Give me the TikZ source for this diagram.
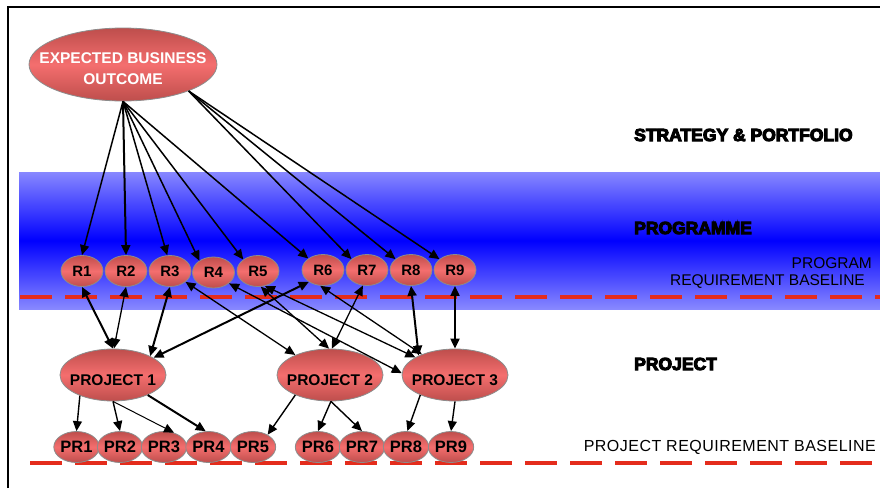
\documentclass[tikz,border=0pt]{standalone}
\usepackage{fontspec}
\setmainfont{Liberation Sans}
\newfontfamily\heavyfont{Liberation Sans Bold}[FakeBold=6]
\usetikzlibrary{shapes.geometric,arrows.meta}
\definecolor{rdark}{RGB}{190,78,76}
\definecolor{rlight}{RGB}{244,110,110}
\definecolor{rborder}{RGB}{140,140,140}
\definecolor{bandlight}{RGB}{136,136,255}
\definecolor{bandblue}{RGB}{0,0,255}
\definecolor{basered}{RGB}{228,44,28}
\newcommand{\inlbl}[1]{\makebox[0pt][c]{\raisebox{-5pt}[\height][\depth]{#1}}}
\begin{document}
\begin{tikzpicture}[x=1pt,y=-1pt,
 req/.style={ellipse, draw=rborder, line width=0.8pt, top color=rdark, bottom color=rdark, middle color=rlight,
   minimum width=42pt, minimum height=31pt, inner sep=0pt, font=\fontsize{15}{17}\selectfont\bfseries},
 preq/.style={req, font=\fontsize{16.5}{18}\selectfont\bfseries},
 proj/.style={req, minimum width=106pt, minimum height=52pt, font=\fontsize{15.5}{17}\selectfont\bfseries},
 ebo/.style={req, minimum width=188pt, minimum height=73pt, text=white, font=\fontsize{15.5}{21}\selectfont\bfseries},
 baseln/.style={basered, line width=3.5pt, dash pattern=on 32pt off 13pt},
 heading/.style={anchor=west, inner sep=0pt, font=\heavyfont\fontsize{17.5}{20}\selectfont},
 plain/.style={inner sep=0pt, font=\fontsize{15.5}{18}\selectfont},
 tip/.style={-{Triangle[length=10pt,width=9pt]}},
 dtip/.style={{Triangle[length=10pt,width=9pt]}-{Triangle[length=10pt,width=9pt]}},
 eline/.style={tip, line width=1.5pt},
 thk/.style={dtip, line width=2pt},
 med/.style={dtip, line width=1.3pt},
 pthk/.style={tip, line width=2pt},
 pmed/.style={tip, line width=1.4pt},
 pthn/.style={tip, line width=1pt}
]
\useasboundingbox (0,0) rectangle (880,488);
% frame
\draw[line width=1.5pt] (8,488) -- (8,7) -- (880,7);
% programme band
\shade[top color=bandlight, bottom color=bandlight, middle color=bandblue] (19,172) rectangle (880,309);
% baselines
\draw[baseln] (20,297) -- (880,297);
\draw[baseln] (30,463) -- (880,463);

% headings
\node[heading] (hs) at (634,135) {STRATEGY \& PORTFOLIO};
\node[heading] (hpg) at (634,228) {PROGRAMME};
\node[heading] (hpj) at (634,364) {PROJECT};
\node[plain, anchor=east] (bl1) at (872,263) {PROGRAM};
\node[plain, anchor=east] (bl2) at (865,282) {REQUIREMENT BASELINE};
\node[plain, anchor=east, font=\fontsize{16}{18}\selectfont\addfontfeature{LetterSpace=3}] (bl3) at (876,447) {PROJECT REQUIREMENT BASELINE};

% top node
\node[ebo] (E) at (123,64.5) {\inlbl{\begin{tabular}{@{}c@{}}EXPECTED BUSINESS\\OUTCOME\end{tabular}}};

% requirement nodes
\node[req] (R1) at (82,271) {R1};
\node[req] (R2) at (126,271) {R2};
\node[req] (R3) at (170,271) {R3};
\node[req] (R4) at (213.5,272.5) {R4};
\node[req] (R5) at (258,271) {R5};
\node[req] (R6) at (323,270) {R6};
\node[req] (R7) at (367,270) {R7};
\node[req] (R8) at (411,270) {R8};
\node[req] (R9) at (455,270) {R9};

% projects
\node[proj] (P1) at (113,375) {\inlbl{PROJECT 1}};
\node[proj] (P2) at (330,375) {\inlbl{PROJECT 2}};
\node[proj] (P3) at (455,375) {\inlbl{PROJECT 3}};

% project requirements
\node[preq] (PR1) at (76.5,447) {PR1};
\node[preq] (PR2) at (120,447) {PR2};
\node[preq] (PR3) at (164,447) {PR3};
\node[preq] (PR4) at (208.5,447) {PR4};
\node[preq] (PR5) at (253,447) {PR5};
\node[preq] (PR6) at (318,447) {PR6};
\node[preq] (PR7) at (362,447) {PR7};
\node[preq] (PR8) at (406,447) {PR8};
\node[preq] (PR9) at (451,447) {PR9};

% outcome -> requirements
\draw[eline] (E.south) -- (R1.north);
\draw[eline, line width=2pt] (E.south) -- (R2.north);
\draw[eline] (E.south) -- (R3.100);
\draw[eline] (E.south) -- (R4.140);
\draw[eline] (E.south) -- (R5.142);
\draw[eline] (E.south) -- (R6.142);
\draw[eline] (E.-22) -- (R7.145);
\draw[eline] (E.-22) -- (R8.145);
\draw[eline] (E.-22) -- (R9.145);

% requirements <-> projects
\draw[thk] (R1.south) -- (P1.north);
\draw[med] (R2.south) -- (P1.88);
\draw[thk] (R3.south) -- (P1.27);
\draw[thk] (R6.-140) -- (P1.23);
\draw[med] (R3.-35) -- (P2.150);
\draw[med] (R4.-35) -- (P3.178);
\draw[med] (R5.-80) -- (P2.92);
\draw[med] (R5.-65) -- (P3.156);
\draw[med] (R6.-100) -- (P3.148);
\draw[med] (R7.-105) -- (P2.86);
\draw[thk] (R8.south) -- (P3.152);
\draw[thk] (R9.south) -- (P3.north);

% projects -> project requirements
\draw[pmed] (P1.-148) -- (PR1.north);
\draw[pmed] (P1.south) -- (PR2.north);
\draw[pthn] (P1.south) -- (PR3.55);
\draw[pthk] (P1.-30) -- (PR4.100);
\draw[pmed] (P2.-150) -- (PR5.40);
\draw[pmed] (P2.-88) -- (PR6.north);
\draw[pmed] (P2.-88) -- (PR7.north);
\draw[pmed] (P3.-150) -- (PR8.85);
\draw[pmed] (P3.south) -- (PR9.north);
\end{tikzpicture}
\end{document}
